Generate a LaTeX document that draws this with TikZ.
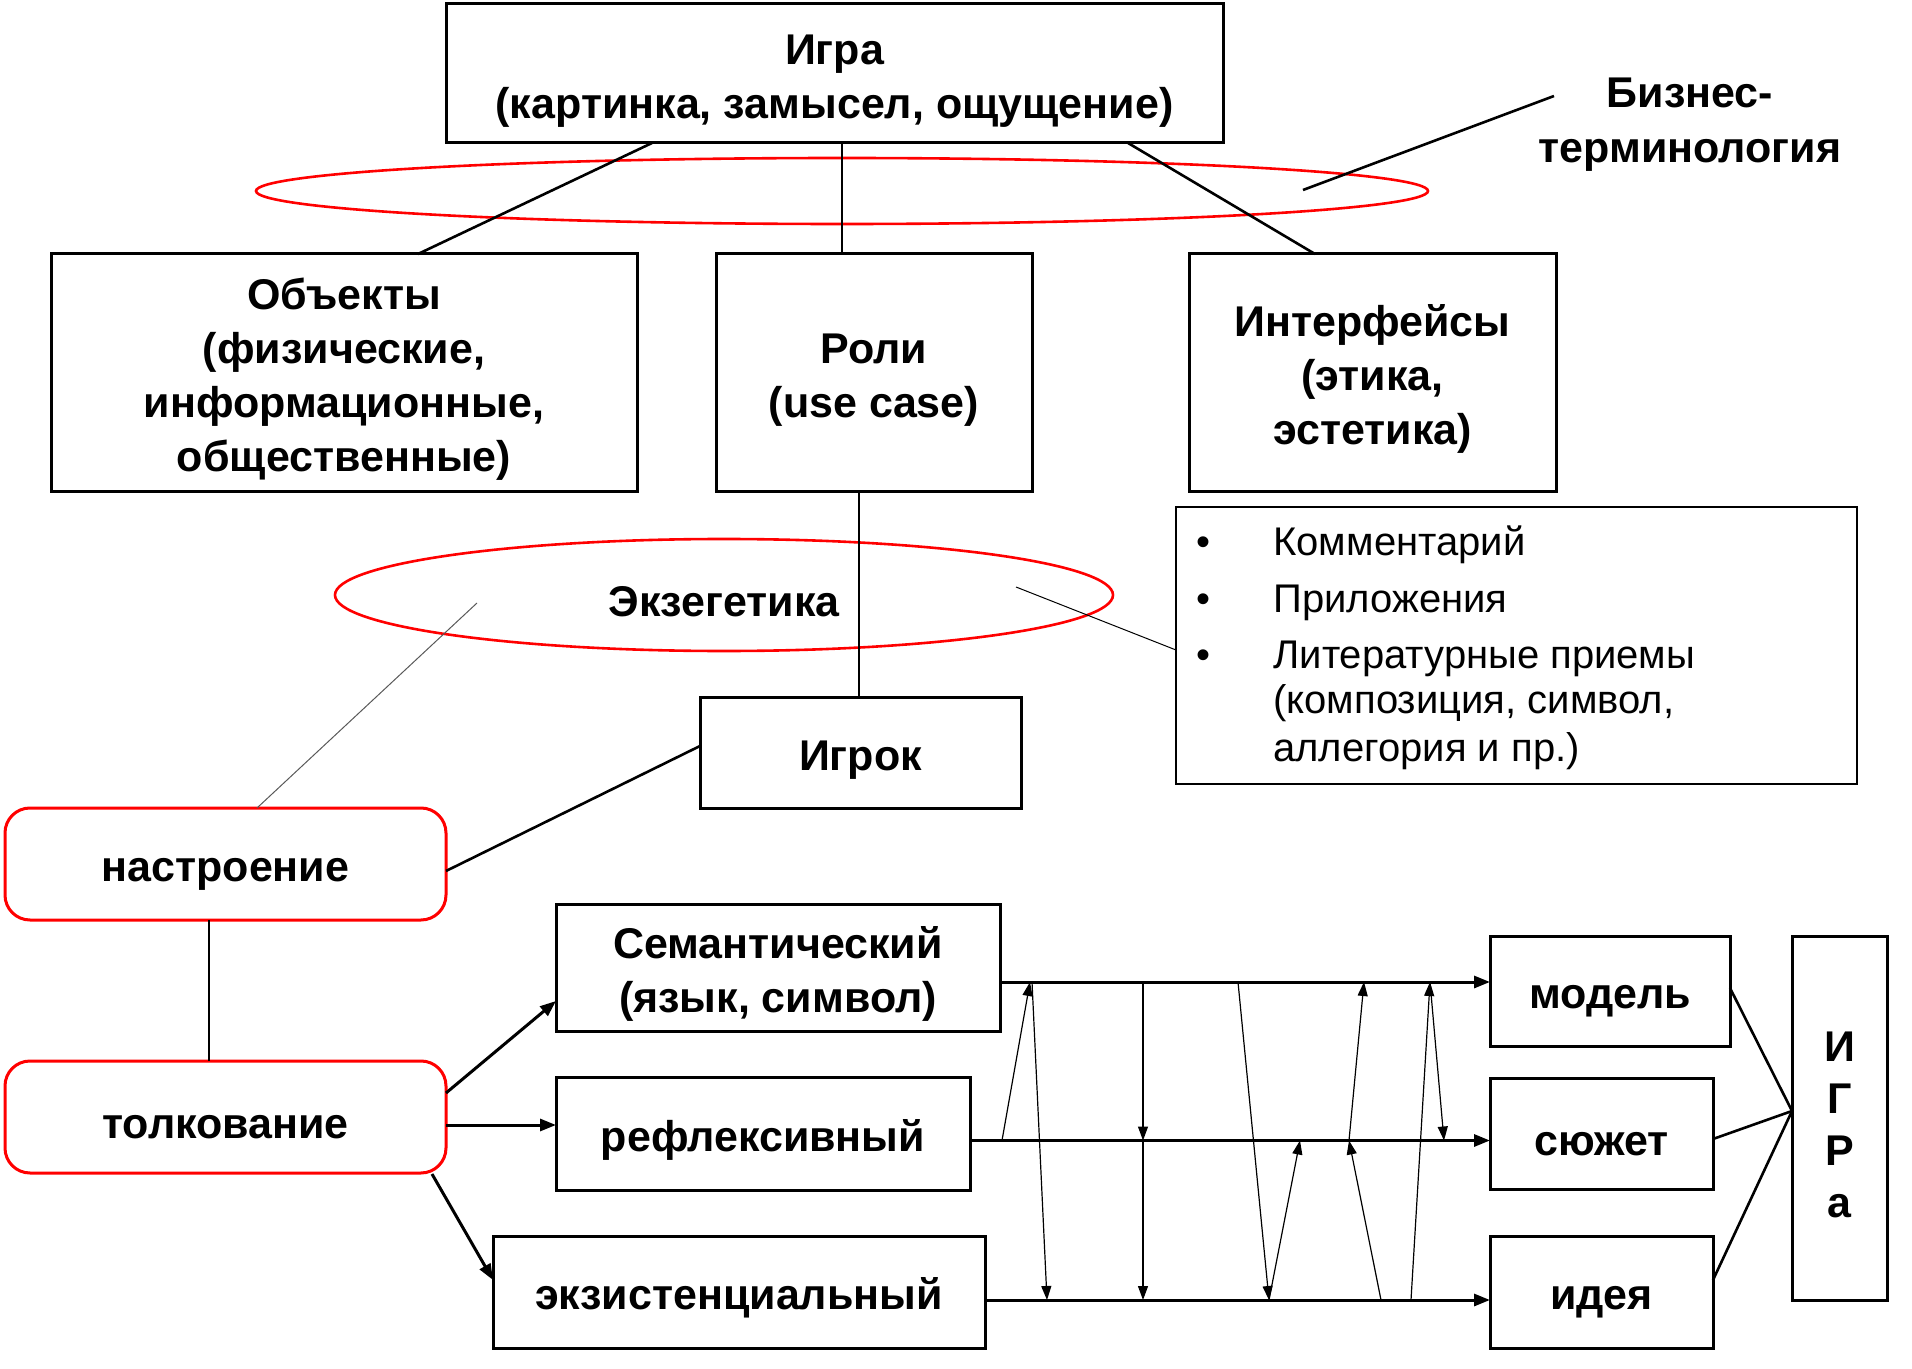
\documentclass[tikz,border=0pt]{standalone}
\usepackage{fontspec}
\setmainfont{Liberation Sans}
\usetikzlibrary{shapes.geometric,arrows.meta}
\newcommand{\ds}{\rule{0pt}{22pt}}
\begin{document}
\begin{tikzpicture}[x=0.5pt,y=-0.5pt,
  box/.style={draw,line width=1.5pt,align=center,inner sep=0pt,font=\fontsize{21.5}{27}\selectfont\bfseries},
  rbox/.style={box,draw=red,rounded corners=12.5pt},
  ell/.style={draw=red,line width=1.3pt,ellipse,inner sep=0pt},
  con/.style={line width=1.3pt},
  thin/.style={line width=0.6pt,-{Triangle[length=7pt,width=5pt]}},
  harr/.style={line width=1.5pt,-{Triangle[length=8pt,width=6pt]}},
  lbl/.style={anchor=base,inner sep=0pt,font=\fontsize{21.5}{27}\selectfont\bfseries},
  itm/.style={anchor=base west,font=\fontsize{20}{25}\selectfont,inner sep=0pt,align=left}]
\useasboundingbox (0,0) rectangle (1912,1369);
\node[ell,minimum width=586pt,minimum height=33pt] (e1) at (842,191) {};
\node[ell,minimum width=389pt,minimum height=56pt,font=\fontsize{21.5}{27}\selectfont\bfseries] (e2) at (724,595) {\ds Экзегетика};
\node[box,minimum width=388.5pt,minimum height=69.5pt,fill=white] (igra) at (834.5,73.5) {\ds Игра\\(картинка, замысел, ощущение)};
\node[box,minimum width=293pt,minimum height=119pt] (obj) at (344,373) {\ds Объекты\\(физические,\\информационные,\\общественные)};
\node[box,minimum width=158pt,minimum height=119pt] (rol) at (874,373) {\ds Роли\\(use case)};
\node[box,minimum width=183.5pt,minimum height=119pt] (int) at (1372.5,373) {\ds Интерфейсы\\(этика,\\эстетика)};
\node[box,minimum width=160.5pt,minimum height=55.5pt] (igrok) at (860.5,752.5) {\ds Игрок};
\node[rbox,minimum width=220.5pt,minimum height=56pt] (nas) at (225.5,864) {\ds настроение};
\node[rbox,minimum width=220.5pt,minimum height=56pt] (tol) at (225.5,1117) {\ds толкование};
\node[box,minimum width=222pt,minimum height=63.5pt] (sem) at (778,967.5) {\ds Семантический\\(язык, символ)};
\node[box,minimum width=207pt,minimum height=56.5pt] (ref) at (763,1133.5) {\ds рефлексивный};
\node[box,minimum width=246pt,minimum height=56pt] (ekz) at (739,1292) {\ds экзистенциальный};
\node[box,minimum width=120pt,minimum height=55pt] (mod) at (1610,991) {\ds модель};
\node[box,minimum width=111.5pt,minimum height=55.5pt] (sju) at (1601.5,1133.5) {\ds сюжет};
\node[box,minimum width=111.5pt,minimum height=56pt] (ide) at (1601.5,1292) {\ds идея};
\node[box,minimum width=47.5pt,minimum height=182pt,font=\fontsize{21.5}{26}\selectfont\bfseries] (IGRA) at (1839.5,1118) {\ds И\\Г\\Р\\а};
\node[lbl] (biz1) at (1690,108) {Бизнес-};
\node[lbl] (biz2) at (1690,163) {терминология};
\node[draw,line width=0.8pt,minimum width=340.5pt,minimum height=138.5pt] (list) at (1516.5,645.5) {};
\foreach \y/\n in {555/a,612/b,668/c}{\node[itm] (bul\n) at (1196,\y) {•};}
\node[itm] (t1) at (1273,555) {Комментарий};
\node[itm] (t2) at (1273,612) {Приложения};
\node[itm] (t3) at (1273,668) {Литературные приемы};
\node[itm] (t4) at (1273,713) {(композиция, символ,};
\node[itm] (t5) at (1273,761) {аллегория и пр.)};
% connectors top
\draw[con] (652,143) -- (418,254);
\draw[con] (842,143) -- (842,254);
\draw[con] (1128,143) -- (1315,254);
\draw[con] (1554,96) -- (1303,190);
\draw[con] (859,492) -- (859,697);
\draw[line width=0.5pt,gray!70!black] (477,603) -- (257,808);
\draw[line width=0.5pt] (1016,587) -- (1176,650);
\draw[con] (446,871) -- (700,746);
\draw[con] (209,920) -- (209,1061);
\draw[harr] (446,1093) -- (556,1001);
\draw[harr] (446,1125) -- (556,1125);
\draw[harr] (432,1174) -- (493,1280);
% horizontal flows
\draw[harr] (1000,982) -- (1490,982);
\draw[harr] (970,1140.5) -- (1490,1140.5);
\draw[harr] (985,1300) -- (1490,1300);
% to ИГРА
\coordinate (m) at (1792,1111);
\draw[con] (1730,988) -- (m);
\draw[con] (1713,1139) -- (m);
\draw[con] (1713,1280) -- (m);
% inner arrows
\draw[thin] (1002,1140.5) -- (1030,982);
\draw[thin] (1032,982) -- (1047,1300);
\draw[thin] (1143,982) -- (1143,1140.5);
\draw[thin] (1143,1140.5) -- (1143,1300);
\draw[thin] (1238,982) -- (1269,1300);
\draw[thin] (1269,1300) -- (1300,1140.5);
\draw[thin] (1349,1140.5) -- (1364,982);
\draw[thin] (1381,1300) -- (1349,1140.5);
\draw[thin] (1411,1300) -- (1430,982);
\draw[thin] (1430,982) -- (1444,1140.5);
\end{tikzpicture}
\end{document}
